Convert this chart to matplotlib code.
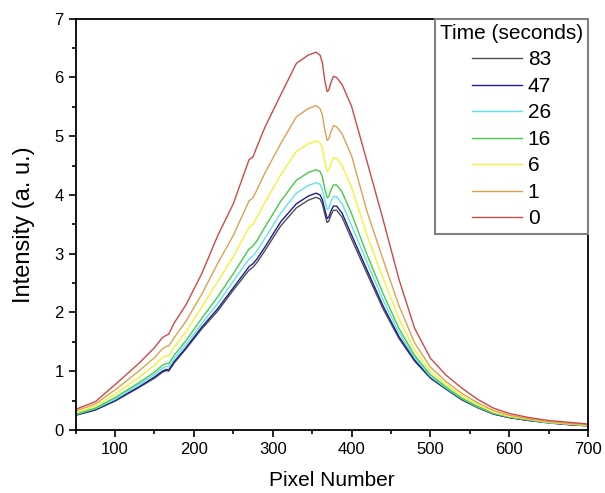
import matplotlib
matplotlib.use("Agg")
import matplotlib.pyplot as plt
from matplotlib.ticker import MultipleLocator

plt.rcParams['font.family'] = ['Liberation Sans', 'DejaVu Sans']

pixel = [50, 75, 100, 130, 150, 160, 165, 168, 175, 190, 210, 230, 250, 270, 275, 280,
         290, 310, 330, 345, 355, 360, 363, 366, 369, 371, 374, 377, 381, 388, 400, 420,
         440, 460, 480, 500, 520, 540, 560, 580, 600, 625, 650, 675, 700]

t0 = [0.35, 0.48, 0.77, 1.13, 1.40, 1.57, 1.61, 1.63, 1.82, 2.13, 2.66, 3.30, 3.85, 4.60, 4.65, 4.82,
      5.15, 5.70, 6.24, 6.38, 6.43, 6.38, 6.25, 5.95, 5.76, 5.78, 5.92, 6.02, 6.00, 5.88, 5.51, 4.55,
      3.58, 2.57, 1.73, 1.22, 0.93, 0.71, 0.52, 0.37, 0.28, 0.21, 0.16, 0.13, 0.10]
t1 = [0.32, 0.44, 0.68, 1.00, 1.23, 1.38, 1.42, 1.43, 1.57, 1.85, 2.31, 2.83, 3.31, 3.90, 3.95, 4.09,
      4.37, 4.87, 5.33, 5.47, 5.52, 5.47, 5.36, 5.11, 4.93, 4.95, 5.08, 5.18, 5.16, 5.04, 4.67, 3.70,
      2.90, 2.12, 1.48, 1.07, 0.82, 0.62, 0.46, 0.33, 0.25, 0.19, 0.14, 0.11, 0.09]
t6 = [0.29, 0.40, 0.61, 0.89, 1.10, 1.23, 1.26, 1.26, 1.41, 1.67, 2.09, 2.52, 2.95, 3.45, 3.50, 3.62,
      3.87, 4.34, 4.74, 4.87, 4.92, 4.89, 4.79, 4.57, 4.40, 4.42, 4.54, 4.63, 4.62, 4.50, 4.13, 3.30,
      2.58, 1.90, 1.36, 1.00, 0.77, 0.58, 0.43, 0.30, 0.23, 0.18, 0.13, 0.10, 0.08]
t16 = [0.27, 0.37, 0.55, 0.80, 0.98, 1.10, 1.13, 1.13, 1.27, 1.52, 1.90, 2.26, 2.66, 3.08, 3.13, 3.22,
       3.45, 3.89, 4.25, 4.38, 4.43, 4.40, 4.31, 4.11, 3.95, 3.97, 4.09, 4.17, 4.17, 4.05, 3.68, 2.97,
       2.32, 1.73, 1.27, 0.94, 0.73, 0.54, 0.40, 0.29, 0.22, 0.17, 0.13, 0.10, 0.08]
t26 = [0.26, 0.36, 0.52, 0.77, 0.94, 1.05, 1.08, 1.08, 1.21, 1.46, 1.81, 2.15, 2.53, 2.91, 2.96, 3.05,
       3.26, 3.69, 4.03, 4.16, 4.21, 4.18, 4.09, 3.91, 3.75, 3.77, 3.89, 3.97, 3.97, 3.85, 3.48, 2.84,
       2.21, 1.66, 1.23, 0.91, 0.71, 0.53, 0.39, 0.28, 0.22, 0.17, 0.12, 0.10, 0.07]
t47 = [0.25, 0.34, 0.50, 0.73, 0.90, 1.00, 1.03, 1.02, 1.16, 1.40, 1.75, 2.06, 2.42, 2.78, 2.83, 2.91,
       3.11, 3.54, 3.85, 3.98, 4.03, 4.00, 3.92, 3.75, 3.60, 3.62, 3.73, 3.81, 3.81, 3.69, 3.32, 2.71,
       2.11, 1.59, 1.19, 0.89, 0.70, 0.52, 0.38, 0.27, 0.21, 0.16, 0.12, 0.09, 0.07]
t83 = [0.25, 0.34, 0.49, 0.72, 0.88, 0.98, 1.01, 1.00, 1.14, 1.38, 1.72, 2.02, 2.38, 2.72, 2.77, 2.85,
       3.05, 3.47, 3.78, 3.91, 3.96, 3.93, 3.85, 3.68, 3.53, 3.55, 3.66, 3.74, 3.74, 3.62, 3.25, 2.65,
       2.06, 1.56, 1.17, 0.88, 0.69, 0.51, 0.38, 0.27, 0.21, 0.16, 0.12, 0.09, 0.07]

labels = ['83', '47', '26', '16', '6', '1', '0']
series = [t83, t47, t26, t16, t6, t1, t0]
colors = ['#505050', '#1c1c9c', '#5fe3ea', '#45cc45', '#f2f23a', '#e0a050', '#d04848']

fig = plt.figure(figsize=(6.05, 4.93), dpi=100)
ax = fig.add_axes([0.125, 0.128, 0.847, 0.834])

for lab, ys, c in zip(labels, series, colors):
    ax.plot(pixel, ys, color=c, lw=1.0, label=lab)

ax.set_xlim(50, 700)
ax.set_ylim(0, 7)
ax.xaxis.set_major_locator(MultipleLocator(100))
ax.xaxis.set_minor_locator(MultipleLocator(50))
ax.yaxis.set_major_locator(MultipleLocator(1))
ax.yaxis.set_minor_locator(MultipleLocator(0.5))
ax.tick_params(which='both', direction='out', top=False, right=False, labelsize=12, width=1.2)
ax.tick_params(which='major', length=5)
ax.tick_params(which='minor', length=3)
for s in ax.spines.values():
    s.set_linewidth(1.3)

ax.set_xlabel('Pixel Number', fontsize=15, labelpad=10)
ax.set_ylabel('Intensity (a. u.)', fontsize=17, labelpad=14)

leg = ax.legend(title='Time (seconds)', loc='upper right', borderaxespad=0,
                fontsize=15, title_fontsize=15, handlelength=2.4, handletextpad=0.3,
                labelspacing=0.36, borderpad=0.25, fancybox=False, framealpha=1,
                edgecolor='#808080', alignment='center')
leg.get_frame().set_linewidth(1.5)

fig.savefig('out.png', dpi=100)
